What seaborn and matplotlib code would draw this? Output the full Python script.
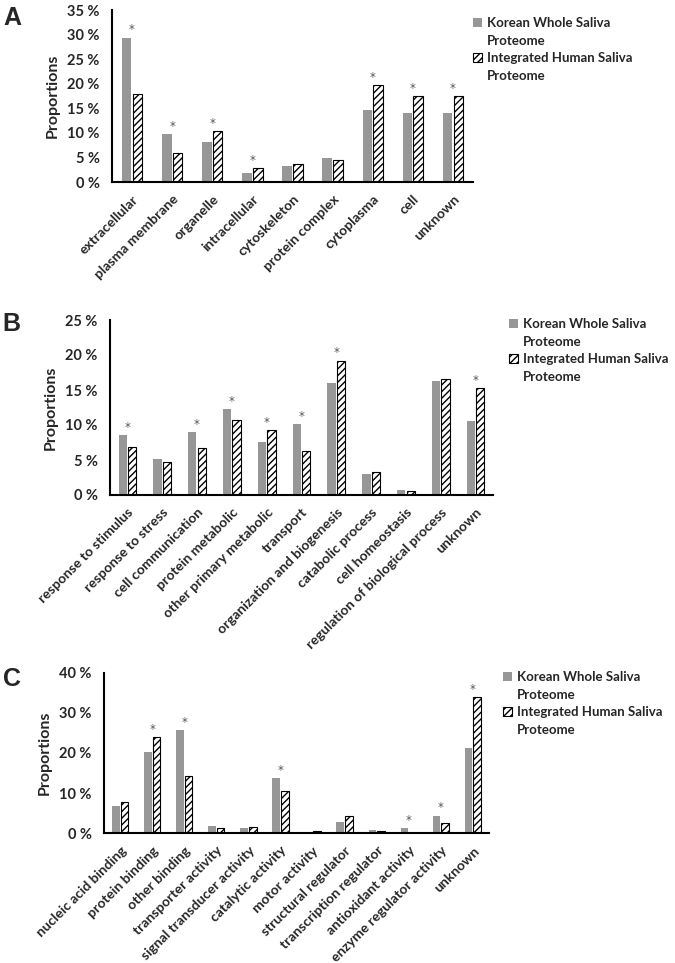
import numpy as np
import pandas as pd
import matplotlib
matplotlib.use("Agg")
import matplotlib.pyplot as plt
import seaborn as sns
from matplotlib.patches import Patch
from matplotlib.ticker import FuncFormatter, FixedLocator

sns.set_theme(style="white")
plt.rcParams['font.family'] = ['Lato', 'DejaVu Sans']
plt.rcParams['hatch.linewidth'] = 1.0

series_names = ["Korean Whole Saliva Proteome", "Integrated Human Saliva Proteome"]

# Panel A: cellular component
cats_a = ["extracellular", "plasma membrane", "organelle", "intracellular", "cytoskeleton",
          "protein complex", "cytoplasma", "cell", "unknown"]
korean_a = [29.4, 9.7, 8.2, 1.8, 3.3, 4.9, 14.7, 14.0, 14.0]
integrated_a = [17.9, 6.0, 10.4, 2.85, 3.6, 4.5, 19.7, 17.5, 17.5]
star_a = [1, 1, 1, 1, 0, 0, 1, 1, 1]

# Panel B: biological process
cats_b = ["response to stimulus", "response to stress", "cell communication", "protein metabolic",
          "other primary metabolic", "transport", "organization and biogenesis", "catabolic process",
          "cell homeostasis", "regulation of biological process", "unknown"]
korean_b = [8.5, 5.1, 9.0, 12.3, 7.5, 10.1, 16.0, 3.0, 0.65, 16.3, 10.6]
integrated_b = [6.85, 4.75, 6.65, 10.7, 9.3, 6.3, 19.2, 3.3, 0.5, 16.6, 15.3]
star_b = [1, 0, 1, 1, 1, 1, 1, 0, 0, 0, 1]

# Panel C: molecular function
cats_c = ["nucleic acid binding", "protein binding", "other binding", "transporter activity",
          "signal transducer activity", "catalytic activity", "motor activity", "structural regulator",
          "transcription regulator", "antioxidant activity", "enzyme regulator activity", "unknown"]
korean_c = [6.8, 20.2, 25.7, 1.9, 1.3, 13.7, 0.0, 2.9, 0.75, 1.3, 4.4, 21.3]
integrated_c = [7.8, 23.9, 14.2, 1.25, 1.5, 10.6, 0.55, 4.4, 0.5, 0.0, 2.5, 33.9]
star_c = [0, 1, 1, 0, 0, 1, 0, 0, 0, 1, 1, 1]

yticks_a = [0, 5, 10, 15, 20, 25, 30, 35]
yticks_b = [0, 5, 10, 15, 20, 25]
yticks_c = [0, 10, 20, 30, 40]

GRAY = "#979797"

fig = plt.figure(figsize=(6.75, 9.63), dpi=100)

panels = [
    ("A", cats_a, korean_a, integrated_a, star_a, yticks_a,
     [112/675, 1-182/963, (473-112)/675, 172/963], (12, 18), (473, 17)),
    ("B", cats_b, korean_b, integrated_b, star_b, yticks_b,
     [110/675, 1-495/963, (493-110)/675, 175/963], (11, 324), (509, 318)),
    ("C", cats_c, korean_c, integrated_c, star_c, yticks_c,
     [104/675, 1-833.3/963, (489-104)/675, 160.6/963], (12, 679), (503, 671)),
]

for letter, cats, kor, integ, stars, yt, rect, letter_pos, leg_pos in panels:
    ax = fig.add_axes(rect)
    df = pd.DataFrame({
        "category": cats * 2,
        "value": list(kor) + list(integ),
        "series": [series_names[0]] * len(cats) + [series_names[1]] * len(cats),
    })
    sns.barplot(data=df, x="category", y="value", hue="series", order=cats,
                hue_order=series_names, palette=[GRAY, "white"], width=0.54, gap=0.12,
                legend=False, ax=ax, saturation=1)
    for bar in ax.containers[0]:
        bar.set_edgecolor("none")
        bar.set_linewidth(0)
    for bar in ax.containers[1]:
        bar.set_hatch("/////")
        bar.set_edgecolor("black")
        bar.set_linewidth(0.8)
    n = len(cats)
    ax.set_xlim(-0.5, n - 0.5)
    ax.set_ylim(yt[0], yt[-1])
    ax.yaxis.set_major_locator(FixedLocator(yt))
    ax.yaxis.set_major_formatter(FuncFormatter(lambda v, p: f"{v:.0f} %"))
    ax.tick_params(axis="y", length=0, pad=9, labelsize=10.5)
    for lbl in ax.get_yticklabels():
        lbl.set_fontweight("bold")
    ax.set_xticks(range(n))
    ax.set_xticklabels(cats, rotation=45, ha="right", rotation_mode="anchor",
                       fontsize=10, fontweight="bold")
    ax.tick_params(axis="x", which="major", length=0, pad=8)
    ax.set_xticks(np.arange(-0.5, n, 1.0), minor=True)
    ax.tick_params(axis="x", which="minor", length=4, width=1.4, direction="out", color="black")
    ax.set_xlabel("")
    ax.set_ylabel("Proportions", fontsize=11.5, fontweight="bold", labelpad=5)
    for s in ["top", "right"]:
        ax.spines[s].set_visible(False)
    for s in ["left", "bottom"]:
        ax.spines[s].set_color("black")
        ax.spines[s].set_linewidth(1.5)
    ax.grid(False)
    # significance stars
    for i, st in enumerate(stars):
        if st:
            top = max(kor[i], integ[i])
            ax.annotate("*", xy=(i, top), xytext=(0, 1), textcoords="offset points",
                        ha="center", va="bottom", fontsize=8.5, color="#555555",
                        family="DejaVu Sans")
    # panel letter
    fig.text(letter_pos[0] / 675, 1 - letter_pos[1] / 963, letter, family="Liberation Sans",
             fontweight="bold", fontsize=18, ha="center", va="center")
    # legend
    h1 = Patch(facecolor=GRAY, edgecolor="none")
    h2 = Patch(facecolor="white", edgecolor="black", hatch="/////", linewidth=0.8)
    blank = Patch(facecolor="none", edgecolor="none")
    fig.legend([h1, blank, h2, blank],
               ["Korean Whole Saliva", "Proteome", "Integrated Human Saliva", "Proteome"],
               loc="upper left", bbox_to_anchor=(leg_pos[0] / 675, 1 - leg_pos[1] / 963),
               frameon=False, prop={"weight": "bold", "size": 9.5},
               handlelength=0.7, handleheight=0.7, handletextpad=0.35,
               labelspacing=0.42, borderpad=0, borderaxespad=0)

fig.savefig("out.png", dpi=100)
